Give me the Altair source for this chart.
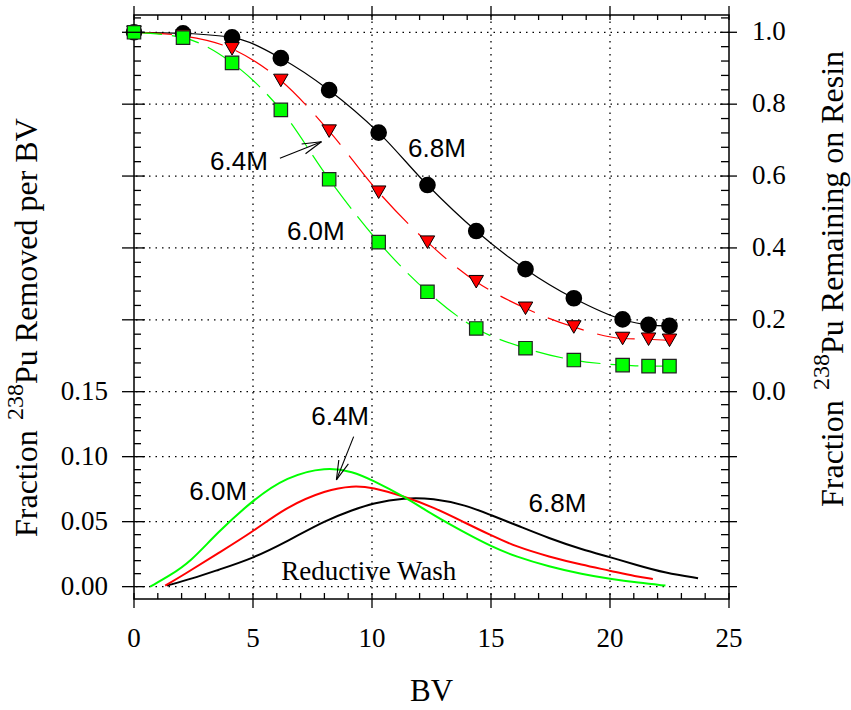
import altair as alt
import pandas as pd

# ---------------- data ----------------
# upper panel: fraction remaining on resin (right axis)
bv_pts = [0, 2.06, 4.12, 6.17, 8.2, 10.28, 12.33, 14.38, 16.45, 18.48, 20.53, 21.62, 22.5]
rem_68 = [1.0, 0.997, 0.986, 0.928, 0.839, 0.721, 0.575, 0.447, 0.341, 0.260, 0.201, 0.186, 0.183]
rem_64 = [1.0, 0.99, 0.954, 0.866, 0.725, 0.555, 0.416, 0.306, 0.232, 0.180, 0.148, 0.146, 0.143]
rem_60 = [1.0, 0.985, 0.915, 0.784, 0.591, 0.416, 0.278, 0.176, 0.121, 0.088, 0.074, 0.071, 0.071]

# lower panel: fraction removed per BV (left axis)
bv_g = [0.68, 1.5, 2.37, 3.47, 5.0, 6.41, 8.08, 9.2, 10.0, 11.37, 12.55, 13.95, 15.0, 16.05, 17.44, 18.84, 20.0, 21.2, 22.33]
rm_60 = [0.0, 0.0085, 0.019, 0.041, 0.0667, 0.0846, 0.0923, 0.0885, 0.0821, 0.0692, 0.0552, 0.041, 0.031, 0.023, 0.0154, 0.0095, 0.0059, 0.003, 0.0008]
bv_r = [1.31, 2.08, 3.47, 5.0, 6.41, 8.08, 9.2, 10.0, 11.37, 12.55, 13.95, 15.0, 16.05, 17.44, 18.84, 20.0, 21.1, 21.8]
rm_64 = [0.0008, 0.009, 0.025, 0.0423, 0.0615, 0.0744, 0.0777, 0.0765, 0.0692, 0.0615, 0.0488, 0.0395, 0.0308, 0.023, 0.0167, 0.0123, 0.0077, 0.0059]
bv_k = [1.38, 2.5, 3.47, 5.0, 6.41, 8.08, 9.2, 10.0, 11.37, 12.55, 13.95, 15.0, 16.05, 17.44, 18.84, 20.0, 21.1, 22.33, 23.7]
rm_68 = [0.0008, 0.0065, 0.0125, 0.0218, 0.0346, 0.0513, 0.059, 0.0641, 0.0685, 0.068, 0.0628, 0.055, 0.0475, 0.0372, 0.0285, 0.0228, 0.0167, 0.0105, 0.0065]

# axis ticks and labels
x_major = [0, 5, 10, 15, 20, 25]
x_labels = ["0", "5", "10", "15", "20", "25"]
x_minor = [v for v in range(1, 25) if v % 5]
l_major = [0.0, 0.05, 0.10, 0.15]
l_labels = ["0.00", "0.05", "0.10", "0.15"]
l_minor = [round(0.01 * i, 2) for i in range(1, 15) if i % 5]
r_major = [0.0, 0.2, 0.4, 0.6, 0.8, 1.0]
r_labels = ["0.0", "0.2", "0.4", "0.6", "0.8", "1.0"]
r_minor = [round(0.04 * i, 2) for i in range(1, 27) if i % 5]

# annotations (data units)
up_txt = ["6.8M", "6.4M", "6.0M"]
up_txt_x = [12.73, 4.41, 7.64]
up_txt_y = [0.653, 0.617, 0.422]
lo_txt = ["6.4M", "6.0M", "6.8M"]
lo_txt_x = [8.66, 3.54, 17.79]
lo_txt_y = [0.1244, 0.0667, 0.0577]
wash_txt = ["Reductive Wash"]
wash_x = [9.86]
wash_y = [0.0052]
# arrows: shaft + two barbs
up_arr_x1 = [6.13, 7.876, 7.876]
up_arr_y1 = [0.6494, 0.6956, 0.6956]
up_arr_x2 = [7.876, 7.043, 7.206]
up_arr_y2 = [0.6956, 0.6892, 0.6622]
lo_arr_x1 = [9.229, 8.504, 8.504]
lo_arr_y1 = [0.1154, 0.0821, 0.0821]
lo_arr_x2 = [8.504, 9.007, 8.605]
lo_arr_y2 = [0.0821, 0.0944, 0.0974]

# ---------------- chart ----------------
W, H = 595, 584
GREEN = "#00ff00"
RED = "#ff0000"
SERIF = "Liberation Serif"
SANS = "Liberation Sans"

xs = alt.Scale(domain=[0, 25], nice=False, zero=False)
sl = alt.Scale(domain=[-0.0095, 0.4398], nice=False, zero=False)
sr = alt.Scale(domain=[-0.5768, 1.0481], nice=False, zero=False)


def X(f="x"):
    return alt.X(f"{f}:Q", scale=xs, axis=None)


def YL(f="y"):
    return alt.Y(f"{f}:Q", scale=sl, axis=None)


def YR(f="y"):
    return alt.Y(f"{f}:Q", scale=sr, axis=None)


layers = []
grid = dict(color="black", strokeDash=[1.5, 5], strokeWidth=1.3)

# grid lines
layers.append(alt.Chart(pd.DataFrame({"x": [5, 10, 15, 20]})).mark_rule(**grid).encode(x=X()))
layers.append(alt.Chart(pd.DataFrame({"y": l_major})).mark_rule(**grid).encode(y=YL()))
layers.append(alt.Chart(pd.DataFrame({"y": r_major[1:]})).mark_rule(**grid).encode(y=YR()))

# lower curves
for xv, yv, col in [(bv_k, rm_68, "black"), (bv_r, rm_64, RED), (bv_g, rm_60, GREEN)]:
    layers.append(
        alt.Chart(pd.DataFrame({"x": xv, "y": yv}))
        .mark_line(color=col, strokeWidth=2, interpolate="basis")
        .encode(x=X(), y=YL())
    )

# upper curves
up_df = pd.DataFrame({"x": bv_pts, "k": rem_68, "r": rem_64, "g": rem_60})
layers.append(alt.Chart(up_df).mark_line(color="black", strokeWidth=1.2, interpolate="monotone").encode(x=X(), y=YR("k")))
layers.append(alt.Chart(up_df).mark_line(color=RED, strokeWidth=1.2, strokeDash=[38, 14], interpolate="monotone").encode(x=X(), y=YR("r")))
layers.append(alt.Chart(up_df).mark_line(color=GREEN, strokeWidth=1.2, strokeDash=[28, 10], interpolate="monotone").encode(x=X(), y=YR("g")))

# markers
layers.append(alt.Chart(up_df).mark_point(shape="circle", filled=True, fill="black", stroke="black", size=215, opacity=1).encode(x=X(), y=YR("k")))
layers.append(alt.Chart(up_df).mark_point(shape="triangle-down", filled=True, fill=RED, stroke="black", strokeWidth=1, size=210, opacity=1).encode(x=X(), y=YR("r")))
layers.append(alt.Chart(up_df).mark_point(shape="square", filled=True, fill=GREEN, stroke="#222222", strokeWidth=1.2, size=180, opacity=1).encode(x=X(), y=YR("g")))

# annotations
layers.append(
    alt.Chart(pd.DataFrame({"x": up_txt_x, "y": up_txt_y, "t": up_txt}))
    .mark_text(font=SANS, fontSize=26, align="center", baseline="alphabetic", color="black")
    .encode(x=X(), y=YR(), text="t:N")
)
layers.append(
    alt.Chart(pd.DataFrame({"x": lo_txt_x, "y": lo_txt_y, "t": lo_txt}))
    .mark_text(font=SANS, fontSize=26, align="center", baseline="alphabetic", color="black")
    .encode(x=X(), y=YL(), text="t:N")
)
layers.append(
    alt.Chart(pd.DataFrame({"x": wash_x, "y": wash_y, "t": wash_txt}))
    .mark_text(font=SERIF, fontSize=27, align="center", baseline="alphabetic", color="black")
    .encode(x=X(), y=YL(), text="t:N")
)
layers.append(
    alt.Chart(pd.DataFrame({"x": up_arr_x1, "y": up_arr_y1, "x2": up_arr_x2, "y2": up_arr_y2}))
    .mark_rule(color="black", strokeWidth=1.1)
    .encode(x=X(), y=YR(), x2="x2:Q", y2="y2:Q")
)
layers.append(
    alt.Chart(pd.DataFrame({"x": lo_arr_x1, "y": lo_arr_y1, "x2": lo_arr_x2, "y2": lo_arr_y2}))
    .mark_rule(color="black", strokeWidth=1.1)
    .encode(x=X(), y=YL(), x2="x2:Q", y2="y2:Q")
)

# ticks
tk = dict(color="black", strokeWidth=1.3)
# bottom / top
layers.append(alt.Chart(pd.DataFrame({"x": x_major})).mark_rule(**tk).encode(x=X(), y=alt.value(H - 6), y2=alt.value(H + 9)))
layers.append(alt.Chart(pd.DataFrame({"x": x_minor})).mark_rule(**tk).encode(x=X(), y=alt.value(H - 6), y2=alt.value(H)))
layers.append(alt.Chart(pd.DataFrame({"x": x_major})).mark_rule(**tk).encode(x=X(), y=alt.value(-9), y2=alt.value(5)))
layers.append(alt.Chart(pd.DataFrame({"x": x_minor})).mark_rule(**tk).encode(x=X(), y=alt.value(0), y2=alt.value(5)))
# left / right, lower part (left scale)
for xa, xb, vals in [(-12, 11, l_major), (0, 7, l_minor), (W - 9, W + 8, l_major), (W - 8, W, l_minor)]:
    layers.append(alt.Chart(pd.DataFrame({"y": vals})).mark_rule(**tk).encode(y=YL(), x=alt.value(xa), x2=alt.value(xb)))
# left / right, upper part (right scale)
for xa, xb, vals in [(-12, 11, r_major[1:]), (0, 7, r_minor), (W - 9, W + 8, r_major[1:]), (W - 8, W, r_minor)]:
    layers.append(alt.Chart(pd.DataFrame({"y": vals})).mark_rule(**tk).encode(y=YR(), x=alt.value(xa), x2=alt.value(xb)))

# tick labels
lab = dict(font=SERIF, fontSize=27, color="black")
layers.append(
    alt.Chart(pd.DataFrame({"x": x_major, "t": x_labels}))
    .mark_text(align="center", baseline="alphabetic", **lab)
    .encode(x=X(), y=alt.value(632), text="t:N")
)
layers.append(
    alt.Chart(pd.DataFrame({"y": l_major, "t": l_labels}))
    .mark_text(align="right", baseline="middle", **lab)
    .encode(y=YL(), x=alt.value(-26), text="t:N")
)
layers.append(
    alt.Chart(pd.DataFrame({"y": r_major, "t": r_labels}))
    .mark_text(align="left", baseline="middle", **lab)
    .encode(y=YR(), x=alt.value(618), text="t:N")
)

# axis titles
TF = 32
SF = 24
FR_W = 117   # advance of "Fraction " at TF
SUP_W = 36   # advance of "238" at SF


def title_piece(text, x, y, size, angle=270, align="left"):
    return (
        alt.Chart(pd.DataFrame({"t": [text]}))
        .mark_text(font=SERIF, fontSize=size, angle=angle, align=align, baseline="alphabetic", color="black")
        .encode(x=alt.value(x), y=alt.value(y), text="t:N")
    )


layers.append(title_piece("BV", W / 2, 686, 31, angle=0, align="center"))
# left title
layers.append(title_piece("Fraction", -97, 522, TF))
layers.append(title_piece("238", -111, 522 - FR_W, SF))
layers.append(title_piece("Pu Removed per BV", -97, 522 - FR_W - SUP_W, TF))
# right title
layers.append(title_piece("Fraction", 709, 492, TF))
layers.append(title_piece("238", 695, 492 - FR_W, SF))
layers.append(title_piece("Pu Remaining on Resin", 709, 492 - FR_W - SUP_W, TF))

chart = (
    alt.layer(*layers)
    .resolve_scale(y="independent")
    .properties(
        width=W,
        height=H,
        autosize=alt.AutoSizeParams(type="none"),
        padding={"left": 134, "top": 15, "right": 122, "bottom": 111},
        background="white",
    )
    .configure_view(stroke="black", strokeWidth=1.5)
)

chart.save("out.html", embed_options={"renderer": "svg", "actions": False})
